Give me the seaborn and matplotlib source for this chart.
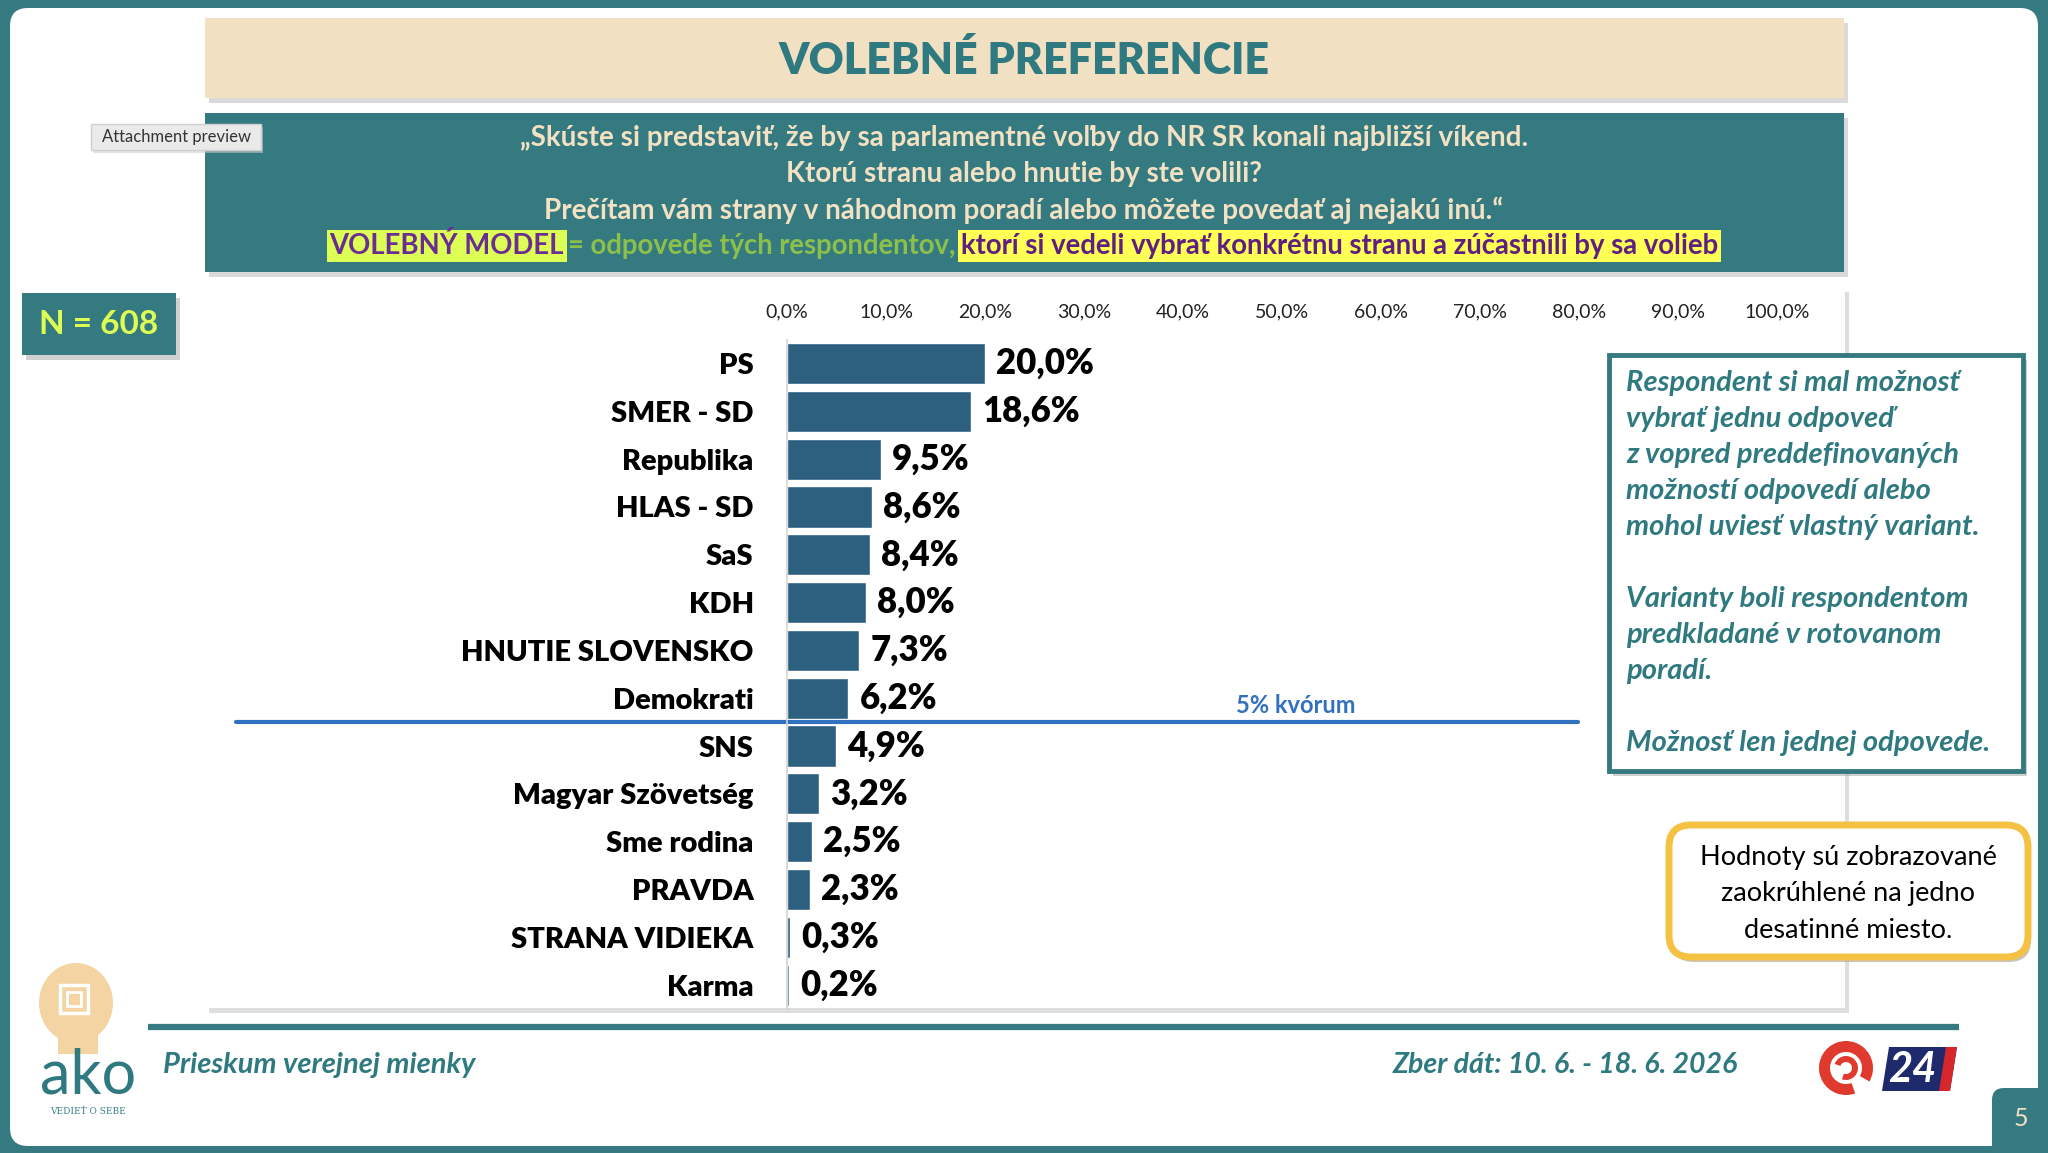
import matplotlib.pyplot as plt
import seaborn as sns
from matplotlib.patches import Rectangle, FancyBboxPatch, Ellipse, Polygon, Wedge

# data
parties = ["PS", "SMER - SD", "Republika", "HLAS - SD", "SaS", "KDH",
           "HNUTIE SLOVENSKO", "Demokrati", "SNS", "Magyar Szövetség",
           "Sme rodina", "PRAVDA", "STRANA VIDIEKA", "Karma"]
shares = [20.0, 18.6, 9.5, 8.6, 8.4, 8.0, 7.3, 6.2, 4.9, 3.2, 2.5, 2.3, 0.3, 0.2]
ticks = [0, 10, 20, 30, 40, 50, 60, 70, 80, 90, 100]
tick_labels = [f"{t:.1f}%".replace(".", ",") for t in ticks]
value_labels = [f"{v:.1f}%".replace(".", ",") for v in shares]
quorum = 5
n_resp = 608

title = "VOLEBNÉ PREFERENCIE"
question_lines = [
    "„Skúste si predstaviť, že by sa parlamentné voľby do NR SR konali najbližší víkend.",
    "Ktorú stranu alebo hnutie by ste volili?",
    "Prečítam vám strany v náhodnom poradí alebo môžete povedať aj nejakú inú.“",
]
model_parts = ["VOLEBNÝ MODEL", "= odpovede tých respondentov,",
               "ktorí si vedeli vybrať konkrétnu stranu a zúčastnili by sa volieb"]
note_lines = ["Respondent si mal možnosť", "vybrať jednu odpoveď",
              "z vopred preddefinovaných", "možností odpovedí alebo",
              "mohol uviesť vlastný variant.", "",
              "Varianty boli respondentom", "predkladané v rotovanom",
              "poradí.", "", "Možnosť len jednej odpovede."]
round_lines = ["Hodnoty sú zobrazované", "zaokrúhlené na jedno", "desatinné miesto."]
footer_left = "Prieskum verejnej mienky"
footer_right = "Zber dát: 10. 6. - 18. 6. 2026"

# colours
teal = "#357A80"
teal_txt = "#2F7A80"
cream = "#F3E1C3"
bar_col = "#2D5F7F"
quorum_col = "#3270C0"

sns.set_theme(style="white")
plt.rcParams['font.family'] = ['Lato', 'DejaVu Sans']

W, H = 2048, 1153
fig = plt.figure(figsize=(W / 100, H / 100), dpi=100)

# background layer in pixel coordinates
bg = fig.add_axes([0, 0, 1, 1], zorder=0)
bg.set_xlim(0, W)
bg.set_ylim(H, 0)
bg.axis('off')


def box(axh, x0, y0, x1, y1, fc, ec='none', lw=0, rounding=0, shadow='#B5B5B5', off=(4, 5), salpha=0.55):
    style = f"round,pad=0,rounding_size={rounding}" if rounding else "square,pad=0"
    if shadow:
        axh.add_patch(FancyBboxPatch((x0 + off[0], y0 + off[1]), x1 - x0, y1 - y0, boxstyle=style,
                                     fc=shadow, ec='none', alpha=salpha))
    axh.add_patch(FancyBboxPatch((x0, y0), x1 - x0, y1 - y0, boxstyle=style, fc=fc, ec=ec, lw=lw))


bg.add_patch(Rectangle((0, 0), W, H, fc=teal, ec='none'))
bg.add_patch(FancyBboxPatch((10, 8), 2028, 1138, boxstyle="round,pad=0,rounding_size=18",
                            fc='white', ec='none'))

# title
box(bg, 205, 18, 1844, 98, "#F2E0C3", shadow='#BDBDBD')
bg.text(1024, 60, title, ha='center', va='center', fontsize=31, fontweight='heavy', color=teal_txt)

# question
box(bg, 205, 113, 1844, 272, teal, shadow='#BDBDBD')
for i, line in enumerate(question_lines):
    bg.text(1024, 138 + 36 * i, line, ha='center', va='center', fontsize=20,
            fontweight='bold', color=cream)
t1 = bg.text(300, 246, model_parts[0], ha='left', va='center', fontsize=19.8, fontweight='bold',
             color='#6A2D91', bbox=dict(boxstyle='square,pad=0.1', fc='#DDFF55', ec='none'))
t2 = bg.annotate(model_parts[1], xy=(1, 0.5), xycoords=t1, xytext=(3, 0), textcoords='offset points',
                 ha='left', va='center', fontsize=19.8, fontweight='bold', color='#8CC04A')
t3 = bg.annotate(model_parts[2], xy=(1, 0.5), xycoords=t2, xytext=(4, 0), textcoords='offset points',
                 ha='left', va='center', fontsize=19.8, fontweight='bold', color='#5E1F80',
                 bbox=dict(boxstyle='square,pad=0.1', fc='#FFFF55', ec='none'))

# attachment tag
box(bg, 91, 124, 261, 150, '#EAEAEA', ec='#D0D0D0', lw=1, shadow='#CCCCCC', off=(2, 3))
bg.text(176, 137, "Attachment preview", ha='center', va='center', fontsize=12, color='#333333')

# N box
box(bg, 22, 293, 176, 355, teal, shadow='#AAAAAA')
bg.text(99, 324, f"N = {n_resp}", ha='center', va='center', fontsize=24, fontweight='bold',
        color='#DDFF55')

# chart panel
box(bg, 205, 287, 1845, 1008, 'white', shadow='#C4C4C4', off=(4, 5))

# bottom rule + footer
bg.plot([148, 1959], [1027, 1027], color=teal, lw=4.5, solid_capstyle='butt')
bg.text(163, 1065, footer_left, ha='left', va='center', fontsize=21, fontweight='bold',
        fontstyle='italic', color=teal_txt)
bg.text(1738, 1065, footer_right, ha='right', va='center', fontsize=20.5, fontweight='bold',
        fontstyle='italic', color=teal_txt)

# ako logo (rough)
bg.add_patch(Ellipse((76, 1003), 74, 80, fc='#F3D4A2', ec='none'))
bg.add_patch(Rectangle((58, 1020), 40, 34, fc='#F3D4A2', ec='none'))
bg.add_patch(Rectangle((60, 985), 28, 28, fc='none', ec='white', lw=2.5))
bg.add_patch(Rectangle((67, 992), 14, 14, fc='none', ec='white', lw=2))
bg.text(88, 1076, "ako", ha='center', va='center', fontsize=44, color='#2F7A80')
bg.text(88, 1111, "VEDIEŤ O SEBE", ha='center', va='center', fontsize=6.5, color='#3A8088',
        family=['DejaVu Serif'])

# JOJ 24 logo (rough)
bg.add_patch(Wedge((1846, 1068), 27, 70, 390, width=11, fc='#E03A2F', ec='none'))
bg.add_patch(Wedge((1846, 1068), 12, 200, 470, width=6, fc='#E03A2F', ec='none'))
bg.add_patch(Polygon([(1889, 1047), (1957, 1047), (1950, 1091), (1882, 1091)], fc='#1E2A6B', ec='none'))
bg.add_patch(Polygon([(1946, 1047), (1957, 1047), (1950, 1091), (1939, 1091)], fc='#D7262C', ec='none'))
bg.text(1912, 1070, "24", ha='center', va='center', fontsize=30, fontweight='bold',
        fontstyle='italic', color='white')

# page number
bg.add_patch(FancyBboxPatch((1992, 1088), 80, 90, boxstyle="round,pad=0,rounding_size=12",
                            fc=teal, ec='none'))
bg.text(2021, 1119, "5", ha='center', va='center', fontsize=18, color=cream)

# chart
top_px, bot_px = 339.6, 1009.0
ax = fig.add_axes([787 / W, 1 - bot_px / H, 990 / W, (bot_px - top_px) / H], zorder=1)
ax.set_facecolor('none')
sns.barplot(x=shares, y=parties, orient='h', color=bar_col, saturation=1, width=0.86, ax=ax)
ax.set_xlim(0, 100)
ax.set_ylim(len(parties) - 0.5, -0.5)
ax.xaxis.tick_top()
ax.set_xticks(ticks)
ax.set_xticklabels(tick_labels)
ax.tick_params(axis='x', length=0, pad=14, labelsize=14, labelcolor='#222222')
ax.tick_params(axis='y', length=0, pad=24, labelsize=21, labelcolor='black')
for lbl in ax.get_yticklabels():
    lbl.set_fontweight('heavy')
ax.set_xlabel('')
ax.set_ylabel('')
for s in ['top', 'right', 'bottom']:
    ax.spines[s].set_visible(False)
ax.spines['left'].set_color('#D3D3D3')
ax.spines['left'].set_linewidth(1.2)
ax.bar_label(ax.containers[0], labels=value_labels, padding=8, fontsize=25,
             fontweight='heavy', color='black')

# 5 % quorum line
qpos = sum(v >= quorum for v in shares) - 0.5
ax.axhline(qpos, xmin=(236 - 787) / 990, xmax=(1578 - 787) / 990, color=quorum_col, lw=3,
           clip_on=False)
ax.text(51.4, qpos - 0.1, f"{quorum}% kvórum", ha='center', va='bottom', fontsize=17,
        fontweight='bold', color=quorum_col)

# foreground notes
fg = fig.add_axes([0, 0, 1, 1], zorder=2)
fg.set_xlim(0, W)
fg.set_ylim(H, 0)
fg.axis('off')

box(fg, 1609, 355, 2023, 771, 'white', ec=teal, lw=3.5, shadow='#A8A8A8', off=(4, 5))
for i, line in enumerate(note_lines):
    fg.text(1626, 383 + 36 * i, line, ha='left', va='center', fontsize=21, fontweight='bold',
            fontstyle='italic', color=teal_txt)

box(fg, 1669, 825, 2028, 957, 'white', ec='#F4C143', lw=5, rounding=22, shadow='#A89C8C',
    off=(3, 5), salpha=0.6)
for i, line in enumerate(round_lines):
    fg.text(1848, 857 + 36.5 * i, line, ha='center', va='center', fontsize=19.5, color='black')

# centre the highlighted model line
fig.canvas.draw()
r = fig.canvas.get_renderer()
e1 = t1.get_window_extent(r)
e3 = t3.get_window_extent(r)
t1.set_x(t1.get_position()[0] + 1024 - (e1.x0 + e3.x1) / 2)

fig.savefig("out.png", dpi=100)
